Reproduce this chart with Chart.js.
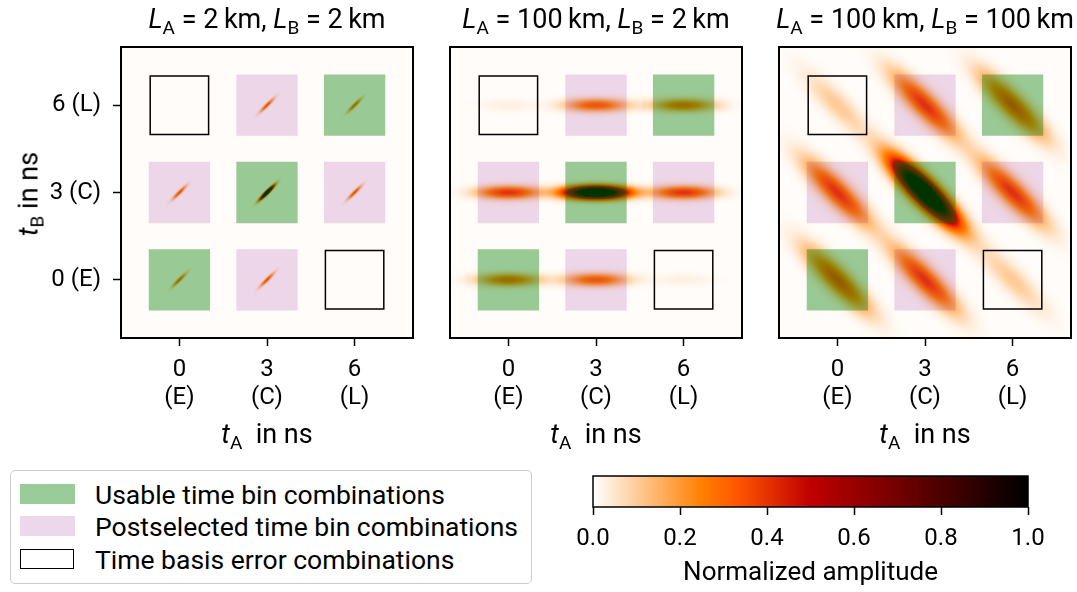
<!DOCTYPE html>
<html>
<head>
<meta charset="utf-8">
<script src="https://cdn.jsdelivr.net/npm/chart.js@4.4.1/dist/chart.umd.min.js"></script>
<style>
  html, body { margin: 0; padding: 0; background: #fff; overflow: hidden; }
  #wrap { position: relative; width: 1077px; height: 592px; font-family: Roboto, "DejaVu Sans", sans-serif; color: #000; }
  canvas { position: absolute; }
  .lbl { position: absolute; transform: translate(-50%, -50%); white-space: nowrap; font-size: 27px; line-height: 1; }
  .lbl sub { font-size: 19px; vertical-align: -6px; line-height: 0; }
  .rot { transform: translate(-50%, -50%) rotate(-90deg); }
  #legend { position: absolute; left: 10px; top: 470px; width: 520px; height: 112px; border: 1.5px solid #cccccc; border-radius: 5px; }
  .row { position: absolute; left: 0; height: 30px; font-size: 26.5px; }
  .row .sw { position: absolute; left: 9px; width: 55px; height: 20px; }
  .row span { position: absolute; left: 84px; top: 50%; transform: translateY(-50%); white-space: nowrap; }
</style>
</head>
<body>
<div id="wrap">
  <canvas id="p1" width="420" height="440" style="left:0;top:0"></canvas>
  <canvas id="p2" width="330" height="440" style="left:420px;top:0"></canvas>
  <canvas id="p3" width="327" height="440" style="left:750px;top:0"></canvas>
  <canvas id="cb" width="517" height="132" style="left:560px;top:460px"></canvas>

  <div class="lbl" style="left:267px;top:19px"><i>L</i><sub>A</sub> = 2&#8201;km, <i>L</i><sub>B</sub> = 2&#8201;km</div>
  <div class="lbl" style="left:596px;top:19px"><i>L</i><sub>A</sub> = 100&#8201;km, <i>L</i><sub>B</sub> = 2&#8201;km</div>
  <div class="lbl" style="left:925px;top:19px"><i>L</i><sub>A</sub> = 100&#8201;km, <i>L</i><sub>B</sub> = 100&#8201;km</div>

  <div class="lbl" style="left:267px;top:434px"><i>t</i><sub>A</sub>&nbsp; in ns</div>
  <div class="lbl" style="left:596px;top:434px"><i>t</i><sub>A</sub>&nbsp; in ns</div>
  <div class="lbl" style="left:925px;top:434px"><i>t</i><sub>A</sub>&nbsp; in ns</div>
  <div class="lbl rot" style="left:29px;top:194px"><i>t</i><sub>B</sub> in ns</div>

  <div id="legend">
    <div class="row" style="top:8px"><div class="sw" style="top:5px;background:#99cc99"></div><span>Usable time bin combinations</span></div>
    <div class="row" style="top:40px"><div class="sw" style="top:5px;background:#ecd8ea"></div><span>Postselected time bin combinations</span></div>
    <div class="row" style="top:73px"><div class="sw" style="top:5px;width:52px;height:18px;border:1.5px solid #000;box-sizing:content-box;left:9px"></div><span>Time basis error combinations</span></div>
  </div>
</div>
<script>
// time bin grid
var tickVals = [0, 3, 6];
var tickNames = ['(E)', '(C)', '(L)'];

// coloured boxes
var usableTA = [0, 3, 6], usableTB = [0, 3, 6];
var postTA = [3, 0, 6, 3], postTB = [0, 3, 3, 6];
var errorTA = [6, 0], errorTB = [0, 6];

// peak positions (tA, tB) and amplitudes
var peakTA = [0, 3, 6, 0, 3, 6, 0, 3, 6];
var peakTB = [0, 0, 0, 3, 3, 3, 6, 6, 6];
var amp2km2km = [0.32, 0.32, 0, 0.32, 1.5, 0.32, 0, 0.32, 0.32];
var amp100km2km = [0.3, 0.3, 0.025, 0.38, 1.4, 0.38, 0.025, 0.3, 0.3];
var amp100km100km = [0.36, 0.38, 0.1, 0.38, 1.4, 0.38, 0.1, 0.38, 0.36];

// peak shape: [sigma along main axis (ns), sigma across (ns), main axis angle (deg)]
var shape2km2km = [0.22, 0.04, 45];
var shape100km2km = [0.7, 0.15, 0];
var shape100km100km = [1.0, 0.27, -45];

var cbTicks = [0, 0.2, 0.4, 0.6, 0.8, 1.0];
var baseLevel = 0.005;

function gistHeatR(v) {
  var x = 1 - Math.max(0, Math.min(1, v));
  var r = Math.min(1, 1.5 * x), g = Math.max(0, Math.min(1, 2 * x - 1)), b = Math.max(0, Math.min(1, 4 * x - 3));
  return [Math.round(r * 255), Math.round(g * 255), Math.round(b * 255)];
}

var FONT = { family: 'Roboto', size: 24, lineHeight: 1.17 };
var CBFONT = { family: 'Roboto', size: 24, lineHeight: 1.17 };
var TFONT = { family: 'Roboto', size: 26, lineHeight: 1.1 };

var heatPlugin = {
  id: 'heat',
  beforeDatasetsDraw: function(chart, args, opts) {
    var ctx = chart.ctx, a = chart.chartArea, xs = chart.scales.x, ys = chart.scales.y;
    var pk = chart.data.datasets[0].data;
    var sh = opts.shape, rad = sh[2] * Math.PI / 180, c = Math.cos(rad), s = Math.sin(rad);
    var l = Math.round(a.left), t = Math.round(a.top);
    var w = Math.round(a.right) - l, h = Math.round(a.bottom) - t;
    var img = ctx.createImageData(w, h);
    for (var j = 0; j < h; j++) {
      var ty = ys.getValueForPixel(t + j + 0.5);
      for (var i = 0; i < w; i++) {
        var tx = xs.getValueForPixel(l + i + 0.5);
        var v = baseLevel;
        for (var k = 0; k < pk.length; k++) {
          if (!pk[k].a) continue;
          var dx = tx - pk[k].x, dy = ty - pk[k].y;
          var u = dx * c + dy * s, q = -dx * s + dy * c;
          v += pk[k].a * Math.exp(-(u * u / (2 * sh[0] * sh[0]) + q * q / (2 * sh[1] * sh[1])));
        }
        var col = gistHeatR(v), p = (j * w + i) * 4;
        img.data[p] = col[0]; img.data[p + 1] = col[1]; img.data[p + 2] = col[2]; img.data[p + 3] = 255;
      }
    }
    ctx.putImageData(img, l, t);
  },
  afterDraw: function(chart) {
    var ctx = chart.ctx, a = chart.chartArea;
    ctx.save();
    ctx.strokeStyle = '#000';
    ctx.lineWidth = 2;
    ctx.strokeRect(a.left, a.top, a.right - a.left, a.bottom - a.top);
    ctx.restore();
  }
};

function boxRadius(half) {
  return function(c) {
    var xs = c.chart.scales.x;
    return (xs.getPixelForValue(half) - xs.getPixelForValue(0)) * Math.SQRT2;
  };
}

function pts(xa, ya, extra) {
  return xa.map(function(x, i) { var o = { x: x, y: ya[i] }; if (extra) o.a = extra[i]; return o; });
}

function makePanel(id, amps, shape, showY, pad) {
  return new Chart(document.getElementById(id), {
    type: 'scatter',
    data: {
      datasets: [
        { label: 'peaks', data: pts(peakTA, peakTB, amps), pointRadius: 0, pointHoverRadius: 0 },
        { label: 'usable', data: pts(usableTA, usableTB), pointStyle: 'rect', backgroundColor: 'rgba(0,128,0,0.4)', borderWidth: 0, pointRadius: boxRadius(1.05), pointHoverRadius: boxRadius(1.05) },
        { label: 'post', data: pts(postTA, postTB), pointStyle: 'rect', backgroundColor: 'rgba(128,0,128,0.15)', borderWidth: 0, pointRadius: boxRadius(1.05), pointHoverRadius: boxRadius(1.05) },
        { label: 'error', data: pts(errorTA, errorTB), pointStyle: 'rect', backgroundColor: 'rgba(0,0,0,0)', borderColor: '#000', borderWidth: 1.5, pointRadius: boxRadius(1.0), pointHoverRadius: boxRadius(1.0) }
      ]
    },
    options: {
      responsive: false,
      animation: false,
      events: [],
      layout: { padding: pad },
      plugins: { legend: { display: false }, tooltip: { enabled: false }, heat: { shape: shape } },
      scales: {
        x: {
          type: 'linear', min: -2, max: 8,
          afterBuildTicks: function(s) { s.ticks = tickVals.map(function(v) { return { value: v }; }); },
          afterFit: function(s) { s.height = 102; },
          ticks: { font: FONT, color: '#000', padding: 10, maxRotation: 0, autoSkip: false,
            callback: function(v) { return [String(v), tickNames[tickVals.indexOf(v)]]; } },
          grid: { drawOnChartArea: false, tickLength: 8, tickColor: '#000', tickWidth: 1.5 },
          border: { display: true, color: '#000', width: 2 }
        },
        y: {
          type: 'linear', min: -2, max: 8, display: showY,
          afterBuildTicks: function(s) { s.ticks = tickVals.map(function(v) { return { value: v }; }); },
          afterFit: function(s) { s.width = showY ? 121 : 0; },
          ticks: { font: FONT, color: '#000', padding: 12, autoSkip: false,
            callback: function(v) { return v + ' ' + tickNames[tickVals.indexOf(v)]; } },
          grid: { drawOnChartArea: false, tickLength: 8, tickColor: '#000', tickWidth: 1.5 },
          border: { display: true, color: '#000', width: 2 }
        }
      }
    },
    plugins: [heatPlugin]
  });
}

makePanel('p1', amp2km2km, shape2km2km, true, { top: 47, right: 7, left: 0, bottom: 0 });
makePanel('p2', amp100km2km, shape100km2km, false, { top: 47, right: 8, left: 30, bottom: 0 });
makePanel('p3', amp100km100km, shape100km100km, false, { top: 47, right: 6, left: 29, bottom: 0 });

var cbPlugin = {
  id: 'cbar',
  beforeDatasetsDraw: function(chart) {
    var ctx = chart.ctx, a = chart.chartArea, xs = chart.scales.x;
    for (var px = Math.floor(a.left); px < Math.ceil(a.right); px++) {
      var col = gistHeatR(xs.getValueForPixel(px + 0.5));
      ctx.fillStyle = 'rgb(' + col.join(',') + ')';
      ctx.fillRect(px, a.top, 1, a.bottom - a.top);
    }
  },
  afterDraw: function(chart) {
    var ctx = chart.ctx, a = chart.chartArea;
    ctx.save();
    ctx.strokeStyle = '#000';
    ctx.lineWidth = 1.5;
    ctx.strokeRect(a.left, a.top, a.right - a.left, a.bottom - a.top);
    ctx.restore();
  }
};

new Chart(document.getElementById('cb'), {
  type: 'scatter',
  data: { datasets: [{ data: [], pointRadius: 0 }] },
  options: {
    responsive: false,
    animation: false,
    events: [],
    layout: { padding: { left: 33, right: 49, top: 16, bottom: 0 } },
    plugins: { legend: { display: false }, tooltip: { enabled: false } },
    scales: {
      x: {
        type: 'linear', min: 0, max: 1,
        afterBuildTicks: function(s) { s.ticks = cbTicks.map(function(v) { return { value: v }; }); },
        afterFit: function(s) { s.height = 85; },
        ticks: { font: CBFONT, color: '#000', padding: 10, maxRotation: 0, autoSkip: false,
          callback: function(v) { return v.toFixed(1); } },
        grid: { drawOnChartArea: false, tickLength: 8, tickColor: '#000', tickWidth: 1.5 },
        border: { display: false },
        title: { display: true, text: 'Normalized amplitude', font: TFONT, color: '#000', padding: { top: 0, bottom: 4 } }
      },
      y: { display: false, min: 0, max: 1 }
    }
  },
  plugins: [cbPlugin]
});
</script>
</body>
</html>
